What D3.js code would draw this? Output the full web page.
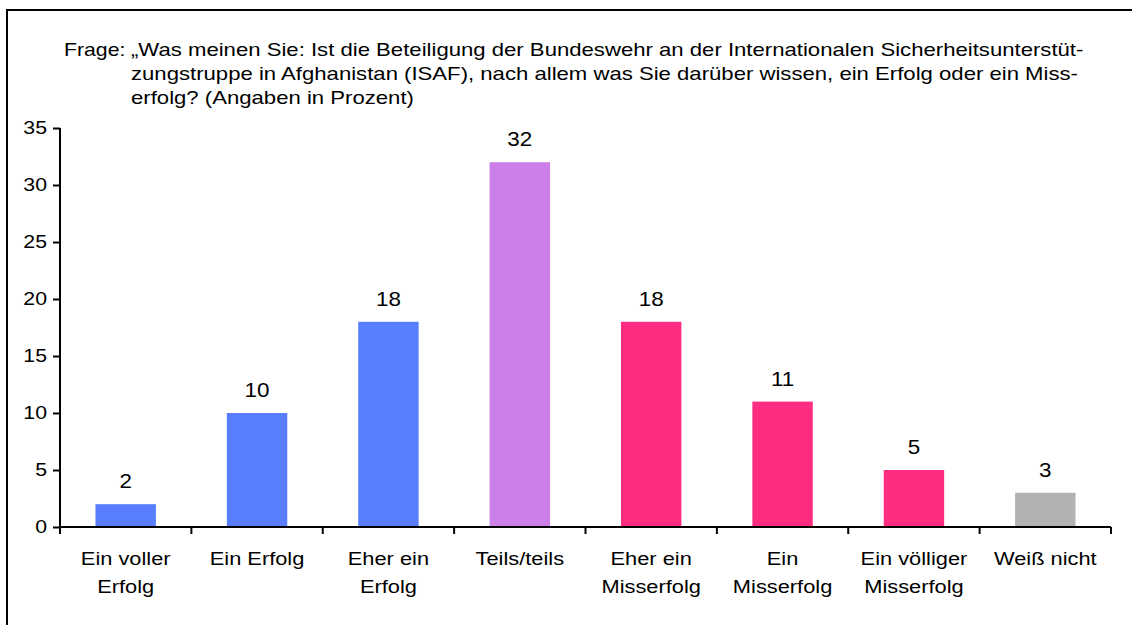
<!DOCTYPE html>
<html>
<head>
    <meta charset="utf-8" />
    <title>ISAF Umfrage</title>
    <style>
        body { margin: 0; background: #fff; overflow: hidden; }
        svg { font-family: "Liberation Sans", Arial, sans-serif; }
    </style>
</head>
<body>
    <div id="chart"></div>
    <script src="https://d3js.org/d3.v7.min.js"></script>
    <script>
        // data
        var categories = [
            ["Ein voller", "Erfolg"],
            ["Ein Erfolg"],
            ["Eher ein", "Erfolg"],
            ["Teils/teils"],
            ["Eher ein", "Misserfolg"],
            ["Ein", "Misserfolg"],
            ["Ein völliger", "Misserfolg"],
            ["Weiß nicht"]
        ];
        var values = [2, 10, 18, 32, 18, 11, 5, 3];
        var barColors = ["#587DFF", "#587DFF", "#587DFF", "#CC7FE8", "#FF2D82", "#FF2D82", "#FF2D82", "#B2B2B2"];
        var yTicks = [0, 5, 10, 15, 20, 25, 30, 35];
        var titleLines = [
            "„Was meinen Sie: Ist die Beteiligung der Bundeswehr an der Internationalen Sicherheitsunterstüt-",
            "zungstruppe in Afghanistan (ISAF), nach allem was Sie darüber wissen, ein Erfolg oder ein Miss-",
            "erfolg? (Angaben in Prozent)"
        ];

        var width = 1132, height = 625;
        // the original text is rendered a bit wider than it is tall
        var stretch = 1.18, titleStretch = 1.21, numStretch = 1.15;

        var svg = d3.select("#chart").append("svg")
            .attr("width", width)
            .attr("height", height);

        // text placed at (x,y) and stretched horizontally
        function wideText(parent, x, y, str, size, sx, anchor) {
            return parent.append("text")
                .attr("transform", `translate(${x},${y}) scale(${sx},1)`)
                .attr("font-size", size)
                .attr("text-anchor", anchor || "start")
                .attr("fill", "#000")
                .text(str);
        }

        // frame: only top and left edges visible
        svg.append("line").attr("x1", 7).attr("x2", width).attr("y1", 10).attr("y2", 10)
            .attr("stroke", "#000").attr("stroke-width", 2);
        svg.append("line").attr("x1", 7).attr("x2", 7).attr("y1", 9).attr("y2", height)
            .attr("stroke", "#000").attr("stroke-width", 2);

        // question text
        wideText(svg, 64, 56, "Frage:", 18, stretch);
        titleLines.forEach(function (line, i) {
            wideText(svg, 131, 56 + i * 24, line, 18.3, titleStretch);
        });

        var x = d3.scaleBand()
            .domain(d3.range(categories.length))
            .range([60, 1111])
            .paddingInner(0.54)
            .paddingOuter(0.27);

        var y = d3.scaleLinear()
            .domain([0, 35])
            .range([527, 128]);

        // y axis
        var yAxis = svg.append("g")
            .attr("transform", "translate(60,0)")
            .call(d3.axisLeft(y).tickValues(yTicks).tickSize(7).tickFormat(""));
        yAxis.select(".domain").attr("stroke-width", 2).attr("d", "M0,128V527");
        yAxis.selectAll(".tick line").attr("stroke-width", 2);
        yTicks.forEach(function (t) {
            wideText(svg, 47, y(t) + 6, t, 18.5, numStretch, "end");
        });

        // bars
        svg.selectAll("rect.bar")
            .data(values)
            .join("rect")
            .attr("class", "bar")
            .attr("x", (d, i) => x(i))
            .attr("width", x.bandwidth())
            .attr("y", d => y(d))
            .attr("height", d => y(0) - y(d))
            .attr("fill", (d, i) => barColors[i]);

        // x axis line with ticks at category boundaries
        svg.append("line").attr("x1", 60).attr("x2", 1111).attr("y1", 527).attr("y2", 527)
            .attr("stroke", "#000").attr("stroke-width", 2);
        svg.selectAll("line.xt")
            .data(d3.range(categories.length + 1))
            .join("line")
            .attr("class", "xt")
            .attr("x1", i => 60 + i * x.step())
            .attr("x2", i => 60 + i * x.step())
            .attr("y1", 527).attr("y2", 534)
            .attr("stroke", "#000").attr("stroke-width", 2);

        // value labels
        values.forEach(function (v, i) {
            wideText(svg, x(i) + x.bandwidth() / 2, y(v) - 16, v, 19.5, numStretch, "middle");
        });

        // category labels
        categories.forEach(function (lines, i) {
            lines.forEach(function (s, j) {
                wideText(svg, x(i) + x.bandwidth() / 2, 565 + j * 28, s, 18.5, stretch, "middle");
            });
        });
    </script>
</body>
</html>
